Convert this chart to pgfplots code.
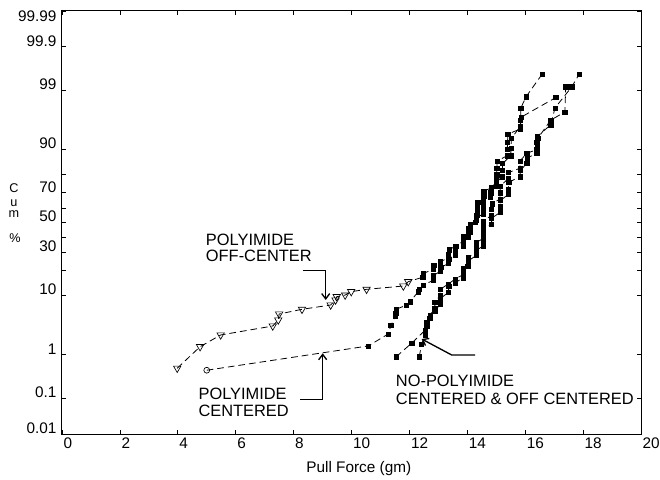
\documentclass[border=0pt]{standalone}
\usepackage{fontspec}
\setmainfont{Liberation Sans}
\usepackage{pgfplots}
\usepackage{pgfplotstable}
\pgfplotsset{compat=1.18}
\usetikzlibrary{arrows.meta}

% Polyimide off-center: x = pull force (gm), p = cumulative percent
\pgfplotstableread{
x p
3.98 0.52
4.77 1.45
5.48 2.40
7.28 3.44
7.47 4.33
7.50 5.38
8.29 6.35
9.28 7.34
9.45 8.64
9.49 9.6
9.78 10.1
9.99 11.2
10.52 12.0
11.79 13.2
11.96 14.9
12.46 16.8
12.48 18.5
12.82 20.5
12.84 22.5
13.06 24.5
13.33 26.5
13.35 29
13.37 31.5
13.60 34
13.86 37
14.02 40
14.03 43
14.04 46
14.27 50
14.30 53
14.54 56
14.55 59
14.55 62
14.56 65
14.57 68
14.57 71
15.01 74
15.01 77
15.02 80
15.02 83
15.03 86
15.38 88
15.38 90
15.39 92
15.40 94
15.84 95
15.84 96.4
15.85 97.8
16.03 98.65
16.59 99.55
}\offc

% Polyimide centered
\pgfplotstableread{
x p
5.00 0.47
10.58 1.5
11.27 2.5
11.36 3.5
11.51 4.9
11.53 5.6
11.55 6.4
11.90 7.3
12.02 8.2
12.31 11.2
12.33 11.9
12.48 13.5
12.82 15.5
12.83 17.5
13.06 19.5
13.08 21.5
13.35 23.5
13.36 26
13.58 28.5
13.59 31
13.86 34
13.87 37
13.88 40
14.09 43
14.10 46
14.11 49
14.32 52
14.33 55
14.34 58
14.35 61
14.36 64
14.80 67
14.81 70
14.82 73
15.01 76
15.20 79
15.21 82
15.22 85
15.50 88
15.51 90.5
15.52 93
15.84 95.5
15.86 96.8
17.06 98.6
}\cent

% No-polyimide centered
\pgfplotstableread{
x p
11.54 0.91
12.08 1.7
12.54 2.9
12.60 4.0
12.71 5.2
12.88 6.5
12.88 8
13.06 10
13.06 12
13.35 14
13.58 16
13.86 18
13.86 21
14.04 24
14.04 27
14.30 30
14.30 33
14.30 36
14.55 39
14.55 43
14.55 47
14.55 51
14.84 55
14.84 59
14.85 63
15.13 66
15.13 70
15.14 74
15.42 78
15.42 81
15.82 83
15.82 86
16.05 88.8
16.40 90
16.40 92
16.42 93.5
16.88 95.7
17.03 97.8
17.61 99.15
17.87 99.55
}\npcent

% No-polyimide off-centered
\pgfplotstableread{
x p
12.34 0.91
12.42 1.6
12.54 2.4
12.60 3.4
12.70 4.6
12.88 6
13.06 7.5
13.06 9
13.35 11
13.36 13
13.58 14.5
13.86 16.5
13.87 19
14.02 22
14.04 25
14.30 28
14.31 31
14.54 34
14.55 37
14.56 41
14.56 45
14.84 49
14.84 53
15.13 57
15.13 61
15.14 65
15.42 69
15.42 72
15.43 76
15.82 79
15.83 82
16.05 85
16.06 87
16.40 89
16.41 91
16.43 93
16.88 96.4
17.37 97.4
17.40 99.15
}\npoff

\newcommand\tickfont{\fontsize{11.5}{13}\selectfont}
\newcommand\annfont{\fontsize{12.3}{14}\selectfont}

\begin{document}
\begin{tikzpicture}[
  declare function={
    pq(\p)=min(\p,100-\p)/100;
    tt(\p)=sqrt(-2*ln(pq(\p)));
    probit(\p)=((\p<50)?-1:1)*(tt(\p)-(2.515517+0.802853*tt(\p)+0.010328*tt(\p)^2)/(1+1.432788*tt(\p)+0.189269*tt(\p)^2+0.001308*tt(\p)^3));
  }]
\begin{axis}[name=ax, scale only axis, width=434.25pt, height=317.25pt,
  xmin=0, xmax=20, ymin=-3.719, ymax=3.719,
  y filter/.expression={probit(y)},
  axis line style={line width=0.75pt},
  tick align=inside, major tick length=3pt, minor tick length=3pt,
  tick style={black, line width=0.6pt},
  xtick={0,2,...,20},
  ytick={-3.719,-3.0902,-2.3263,-1.2816,-0.5244,0,0.5244,1.2816,2.3263,3.0902},
  yticklabels={0.01,0.1,1,10,30,50,70,90,99,99.9},
  minor ytick={-0.8416,-0.2533,0.2533,0.8416},
  extra y ticks={3.719},
  extra y tick labels={99.99},
  extra y tick style={yticklabel style={anchor=north east}},
  /pgf/number format/assume math mode=true,
  xticklabel style={font=\tickfont, anchor=north west, inner sep=0pt, xshift=1pt, yshift=-3pt},
  yticklabel style={font=\tickfont, anchor=base east, inner sep=0pt, xshift=-4pt, yshift=0.5pt},
  xlabel={Pull Force (gm)},
  xlabel style={font=\tickfont, at={(axis description cs:0.5126,0)}, anchor=base, yshift=-28.5pt},
  dashline/.style={black, line width=0.6pt, dash pattern=on 5pt off 3pt},
  sq/.style={only marks, black, mark=square*, mark size=1.6pt},
]
% polyimide off-center
\addplot[dashline, no marks] table[x=x,y=p] {\offc};
\addplot[only marks, black, mark=triangle, mark size=3.2pt, mark options={rotate=180, fill=white, line width=0.5pt},
  skip coords between index={15}{500}] table[x=x,y=p] {\offc};
\addplot[sq, skip coords between index={0}{15}] table[x=x,y=p] {\offc};
% polyimide centered
\addplot[dashline, no marks] table[x=x,y=p] {\cent};
\addplot[only marks, black, mark=o, mark size=2.2pt, mark options={fill=white, line width=0.5pt},
  skip coords between index={1}{500}] table[x=x,y=p] {\cent};
\addplot[sq, skip coords between index={0}{1}] table[x=x,y=p] {\cent};
% no-polyimide centered
\addplot[dashline, no marks] table[x=x,y=p] {\npcent};
\addplot[sq] table[x=x,y=p] {\npcent};
% no-polyimide off-centered
\addplot[dashline, no marks] table[x=x,y=p] {\npoff};
\addplot[sq] table[x=x,y=p] {\npoff};
\end{axis}
\begin{scope}[shift={(ax.south west)}, xshift=-46.5pt, yshift=325.5pt, x=0.75pt, y=-0.75pt]
  \begin{scope}[font=\annfont, inner sep=0pt]
    \node[anchor=base west] at (205.7,245) {POLYIMIDE};
    \node[anchor=base west] at (205.7,261.7) {OFF-CENTER};
    \node[anchor=base west] at (198.3,399.3) {POLYIMIDE};
    \node[anchor=base west] at (198.3,416.7) {CENTERED};
    \node[anchor=base west] at (395.7,386.7) {NO-POLYIMIDE};
    \node[anchor=base west] at (395.7,404) {CENTERED \& OFF CENTERED};
  \end{scope}
  \begin{scope}[font=\fontsize{9.5}{10}\selectfont, inner sep=0pt]
    \node[anchor=base] at (14,193) {C};
    \node[anchor=base] at (14,206) {u};
    \node[anchor=base] at (14,217.5) {m};
    \node[anchor=base] at (15,242) {\%};
  \end{scope}
  \begin{scope}[line width=1pt, -{Straight Barb[length=4pt,width=6pt]}]
    \draw (303.3,270.7) -- (325.7,270.7) -- (325.7,300);
    \draw (300,399.3) -- (322.7,399.3) -- (322.7,353.3);
    \draw (475,355) -- (451.7,355) -- (421.7,339);
  \end{scope}
  \pgfresetboundingbox
  \path (0,0) rectangle (660,479);
\end{scope}
\end{tikzpicture}
\end{document}
